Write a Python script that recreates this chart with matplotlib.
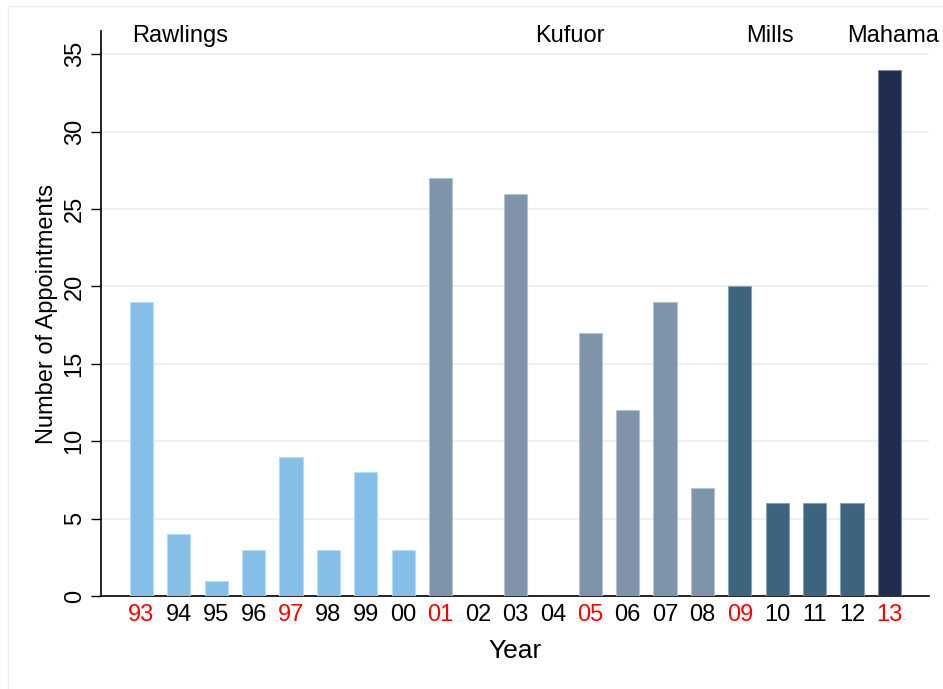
import numpy as np
import matplotlib.pyplot as plt
from matplotlib.patches import Rectangle

plt.rcParams['font.family'] = ['Liberation Sans', 'DejaVu Sans']

# data
years = ['93', '94', '95', '96', '97', '98', '99', '00', '01', '02', '03',
         '04', '05', '06', '07', '08', '09', '10', '11', '12', '13']
appointments = [19, 4, 1, 3, 9, 3, 8, 3, 27, 0, 26, 0, 17, 12, 19, 7, 20, 6, 6, 6, 34]
president = ['Rawlings'] * 8 + ['Kufuor'] * 8 + ['Mills'] * 4 + ['Mahama']
election_years = ['93', '97', '01', '05', '09', '13']
pres_names = ['Rawlings', 'Kufuor', 'Mills', 'Mahama']
pres_label_x = [1.03, 11.46, 16.8, 20.1]

colors = {'Rawlings': '#85bfe8', 'Kufuor': '#7f94ab',
          'Mills': '#3e637e', 'Mahama': '#1f2c50'}
edges = {'Rawlings': '#b9dbf3', 'Kufuor': '#b4c1ce',
         'Mills': '#8aa1b3', 'Mahama': '#7f8aa3'}

W, H = 943, 689
fig = plt.figure(figsize=(W / 100, H / 100), dpi=100)
fig.patches.append(Rectangle((8 / W, -0.01), 1, (H - 6) / H + 0.01,
                             transform=fig.transFigure, fill=False,
                             edgecolor='#e6eff3', lw=1))
ax = fig.add_axes([101 / W, (H - 596) / H, (929 - 101) / W, (596 - 31) / H])

x = np.arange(len(years))
ax.bar(x, appointments, width=0.62,
       color=[colors[p] for p in president],
       edgecolor=[edges[p] for p in president], linewidth=0.8, zorder=3)

ax.set_xlim(-1.08, 21.06)
ax.set_ylim(0, 36.5)
ax.set_yticks(range(0, 36, 5))
ax.set_yticklabels([str(v) for v in range(0, 36, 5)], rotation=90, va='center')
ax.set_xticks(x)
ax.set_xticklabels(years)
for lab in ax.get_xticklabels():
    if lab.get_text() in election_years:
        lab.set_color('red')

ax.tick_params(axis='y', length=7, width=1, labelsize=17, pad=4)
ax.tick_params(axis='x', length=0, labelsize=17, pad=6)
ax.grid(axis='y', color='#e8f1f3', lw=1.2, zorder=0)
for s in ['top', 'right']:
    ax.spines[s].set_visible(False)
ax.spines['left'].set_linewidth(1.2)
ax.spines['bottom'].set_linewidth(1.2)

for name, px in zip(pres_names, pres_label_x):
    ax.text(px, 36.2, name, ha='center', va='center', fontsize=17, clip_on=False)

ax.set_xlabel('Year', fontsize=19, labelpad=9)
ax.set_ylabel('Number of Appointments', fontsize=17, labelpad=4)

plt.savefig('out.png', dpi=100)
